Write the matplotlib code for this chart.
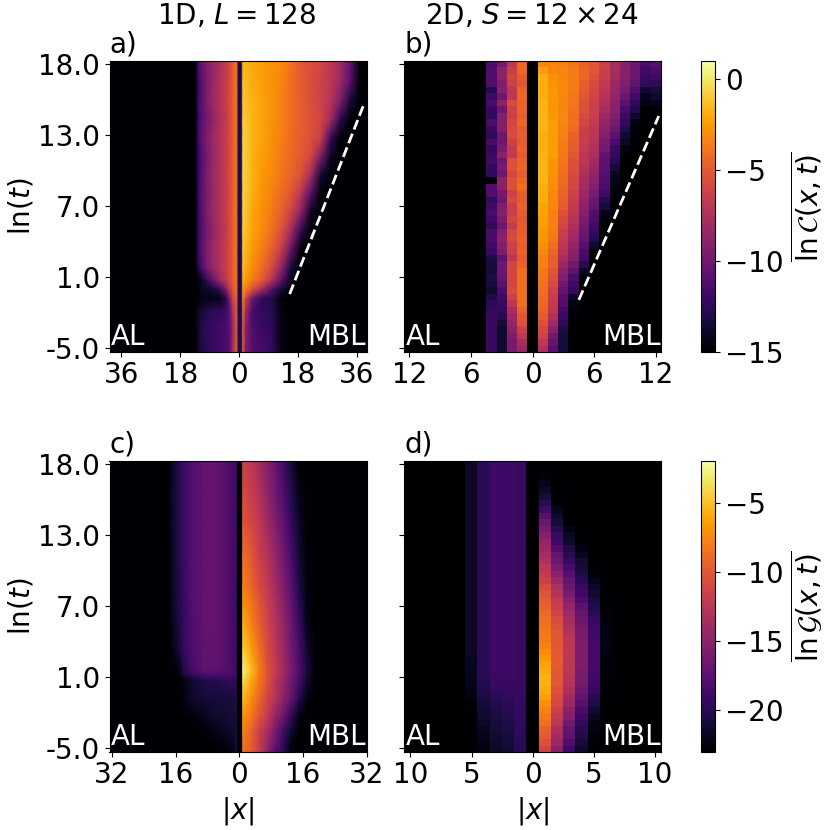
import numpy as np
import matplotlib
matplotlib.use('Agg')
import matplotlib.pyplot as plt

plt.rcParams['font.family'] = 'DejaVu Sans'
plt.rcParams['mathtext.fontset'] = 'dejavusans'
plt.rcParams['font.size'] = 20

# panel a) 1D lnC, smooth field read on a coarse grid
a_t = [18.25, 16.5, 15, 13.5, 12, 10.5, 9, 7.5, 6, 4.5, 3, 1.5, 0.5, -0.25, -1, -2, -3.5, -5.3]
a_x_left = [-13.3, -12.5, -11.5, -10, -8, -6, -4, -3, -2, -0.7]
a_x_core = [-0.2, 0.8]
a_x_right = [1.2, 2, 4, 7, 10, 13, 16, 19, 22, 25, 28, 31, 34, 37]
a_left = [
    [-15, -11.5, -10.5, -9.5, -8.5, -7.8, -6.8, -6, -5, -3.8],
    [-15, -12.5, -11, -9.8, -8.5, -7.5, -6.6, -6, -5, -3.8],
    [-15, -12, -11, -9.5, -8.3, -7.5, -6.5, -5.8, -5, -3.8],
    [-15, -12.3, -11, -10, -8.8, -7.8, -6.7, -5.9, -5, -3.8],
    [-15, -12, -10.8, -9.5, -8.2, -7.4, -6.5, -5.8, -5, -3.8],
    [-15, -12.5, -11.2, -10, -8.6, -7.6, -6.6, -5.9, -5, -3.8],
    [-15, -12.2, -11, -9.6, -8.3, -7.4, -6.5, -5.8, -5, -3.8],
    [-15, -12.4, -11, -9.8, -8.5, -7.6, -6.6, -5.9, -5, -3.8],
    [-15, -12.2, -11, -9.5, -8.3, -7.4, -6.5, -5.8, -5, -3.8],
    [-15, -12.6, -11.2, -10, -8.8, -7.8, -6.7, -5.9, -5, -3.8],
    [-15, -12.2, -11, -9.6, -8.2, -7.4, -6.5, -5.8, -5, -3.8],
    [-15, -13, -11.5, -10, -8.5, -7.5, -6.5, -5.8, -5, -3.8],
    [-15, -15, -14, -12.5, -10.5, -8.5, -6.8, -6, -5, -4],
    [-15, -15, -14, -14, -13.5, -12.5, -9.5, -7, -5.5, -4],
    [-15, -15, -14.5, -14.5, -14.5, -14.5, -13, -10, -6.5, -4.5],
    [-15, -14, -13.5, -13, -12.5, -12.5, -12, -11, -8, -5],
    [-15, -14, -13, -12.5, -12, -11.8, -11.5, -11, -9, -5],
    [-15, -14, -13.2, -12.8, -12.3, -12, -11.5, -11, -8.5, -5],
]
a_core = [-13, -13]
a_right = [
    [-1.8, -1.8, -2.1, -2.5, -2.7, -3.1, -4, -5, -5.5, -6, -7, -8, -10.5, -15],
    [-1.4, -1.5, -2, -2.4, -2.8, -3.3, -4.2, -5, -5.6, -6.2, -7, -8.2, -11, -15],
    [-1.2, -1.3, -1.8, -2.3, -2.8, -3.4, -4.2, -4.8, -5.6, -6.2, -7.2, -9.5, -13.5, -15],
    [-1, -1.1, -1.7, -2.3, -2.8, -3.4, -4.2, -4.8, -5.4, -6, -8, -12.5, -15, -15],
    [-0.9, -1, -1.7, -2.3, -2.9, -3.5, -4.3, -4.9, -5.5, -6.5, -12, -15, -15, -15],
    [-0.8, -0.9, -1.8, -2.5, -3, -3.7, -4.4, -5, -6, -9.5, -14, -15, -15, -15],
    [-0.8, -0.9, -1.8, -2.6, -3.1, -3.9, -4.6, -5.5, -8, -13.5, -15, -15, -15, -15],
    [-0.8, -1, -1.9, -2.7, -3.4, -4.3, -5.2, -7.2, -11, -15, -15, -15, -15, -15],
    [-0.9, -1.1, -2.1, -2.9, -3.7, -4.7, -6.2, -9, -14, -15, -15, -15, -15, -15],
    [-1, -1.3, -2.3, -3.1, -4.1, -5.5, -8, -12.5, -15, -15, -15, -15, -15, -15],
    [-1.2, -1.6, -2.6, -3.5, -4.8, -6.6, -10.5, -15, -15, -15, -15, -15, -15, -15],
    [-1.5, -2, -3, -4.2, -5.8, -8.8, -13.5, -15, -15, -15, -15, -15, -15, -15],
    [-1.8, -2.5, -3.6, -5, -7.3, -10.8, -14.5, -15, -15, -15, -15, -15, -15, -15],
    [-2.7, -3.6, -5.5, -8, -11, -13.5, -15, -15, -15, -15, -15, -15, -15, -15],
    [-3.5, -6, -10, -12.5, -13, -15, -15, -15, -15, -15, -15, -15, -15, -15],
    [-4.5, -8, -11.5, -12.5, -12.8, -14.5, -15, -15, -15, -15, -15, -15, -15, -15],
    [-5, -9, -11.3, -12, -12.5, -14.5, -15, -15, -15, -15, -15, -15, -15, -15],
    [-5, -9.5, -11, -11.5, -12.3, -14.5, -15, -15, -15, -15, -15, -15, -15, -15],
]

# panel b) 2D lnC, one list per column, 45 rows from top to bottom
b_m4 = [-11.5, -11.2, -11.2, -11.2, -12.8, -11.8, -11.5, -12.1, -12.4, -11.5, -12.1, -12.6, -11.5, -12.4, -12.1,
        -11.8, -12.4, -12.4, -15, -11.2, -11.2, -12.4, -11.8, -11.5, -11.8, -12.6, -11.5, -11.5, -11.8, -12.1,
        -13.1, -13.4, -13.4, -13.1, -13.4, -13.7, -13.1, -12.6, -12.4, -12.3, -12.3, -12.1, -12.1, -12.1, -12.1]
b_m3 = [-9.9, -8.9, -8.9, -9.4, -9.2, -10.2, -8.9, -10.2, -9.2, -9.2, -9.2, -10.2, -10.2, -9.7, -8.9,
        -10.2, -9.7, -10.2, -8.9, -8.9, -9.9, -10.2, -9.4, -9.2, -9.6, -10.2, -9.2, -8.9, -9.2, -9.6,
        -10.8, -10.2, -10.2, -10.5, -10.8, -11.5, -11.8, -12.1, -12.4, -12.8, -13.4, -13.7, -13.7, -13.7, -13.7]
b_m2 = [-7, -6.5, -6, -6.2, -7, -7, -5.7, -6.2, -6.2, -5.9, -5.7, -5.7, -6.2, -6.7, -6.7,
        -5.4, -5.4, -5.9, -5.4, -5.4, -6.2, -5.7, -6.5, -6.4, -6, -6.7, -5.9, -5.7, -6.2, -6.5,
        -7, -6, -6, -6, -6, -5.7, -6.2, -7, -7.8, -8.3, -8.6, -8.9, -9.4, -9.7, -9.7]
b_m1 = [-4.4, -4.4, -4.9, -5.1, -4.6, -4.4, -4.6, -4.6, -4.8, -4.4, -4.9, -4.8, -4.9, -4.6, -4.9,
        -4.6, -4.4, -4.8, -4.4, -4.1, -4.8, -4.9, -4.6, -4.9, -5.1, -4.8, -4.8, -4.6, -4.8, -4.6,
        -4.9, -4.6, -4.1, -4.1, -4.1, -4.1, -4.1, -4.1, -4.6, -5.1, -5.4, -6.2, -7, -7.8, -8.3]
b_p1 = [-3.2, -2.5, -1.9, -1.9, -1.9, -1.9, -1.7, -1.7, -1.7, -1.7, -1.7, -1.9, -1.9, -1.9, -1.7,
        -1.7, -1.7, -1.7, -1.7, -1.9, -1.9, -1.9, -2.2, -2.2, -2.5, -2.5, -2.7, -2.7, -3, -3.2,
        -3.5, -3.5, -3.8, -3.8, -4, -4.1, -4.3, -4.4, -4.6, -4.9, -5.4, -5.9, -6.2, -7, -7.5]
b_p2 = [-3.3, -3.2, -3, -2.8, -2.7, -2.7, -2.7, -2.7, -2.7, -2.5, -2.5, -2.5, -2.5, -2.5, -2.5,
        -2.7, -2.8, -2.8, -3, -3, -3.2, -3.2, -3.3, -3.5, -3.5, -3.5, -3.6, -3.8, -4.1, -4.4,
        -4.8, -4.8, -5.1, -5.4, -5.7, -6.2, -6.5, -6.7, -7, -7.5, -8.1, -8.9, -9.9, -10.5, -11]
b_p3 = [-3.5, -3.3, -3.2, -3.2, -3.2, -3.2, -3.3, -3.3, -3.2, -3.3, -3.5, -3.5, -3.6, -3.6, -3.8,
        -3.8, -4, -4.1, -4.3, -4.4, -4.6, -4.8, -4.9, -5.4, -5.7, -6, -6.4, -6.7, -7, -7.3,
        -7.8, -8.3, -8.9, -9.4, -9.9, -10.5, -11, -11.3, -11.8, -12.1, -12.6, -13.1, -13.4, -13.4, -13.4]
b_p4 = [-3.8, -3.6, -3.6, -3.6, -3.6, -3.8, -3.8, -4, -4.1, -4.1, -4.3, -4.6, -4.8, -4.9, -5.1,
        -5.4, -5.4, -5.7, -5.9, -6, -6.2, -6.4, -6.7, -7, -7.3, -7.6, -8, -8.3, -8.6, -8.9,
        -9.2, -9.9, -10.7, -11.5, -11.8, -12.3, -14, -14.5, -14.7, -14.8] + [-15] * 5
b_p5 = [-4.6, -4.4, -4.4, -4.8, -4.9, -5.1, -5.4, -5.4, -5.7, -5.9, -6.2, -6.4, -6.5, -6.7, -7,
        -7, -7.3, -7.6, -7.8, -8.1, -8.3, -8.6, -8.9, -9.2, -9.6, -9.9, -10.2, -10.5, -11, -11.5,
        -11.8, -12.8, -14, -14.7] + [-15] * 11
b_p6 = [-5.1, -5.1, -5.4, -5.7, -5.9, -6, -6.2, -6.4, -6.5, -6.7, -7, -7, -7.2, -7.5, -7.6,
        -8, -8.3, -8.6, -8.9, -9.2, -9.7, -10.2, -10.5, -11.2, -11.5, -11.8, -12.3, -12.8, -13.7, -14.7] + [-15] * 15
b_p7 = [-6.2, -6.4, -6.5, -6.7, -7, -7.3, -7.5, -7.8, -8.3, -8.6, -8.9, -9.2, -9.6, -9.9, -10.5,
        -10.7, -10.8, -11, -11.2, -11.5, -11.8, -12.8, -13.4, -14.2, -14.7] + [-15] * 20
b_p8 = [-7.8, -7.8, -8, -8.3, -8.4, -8.6, -8.9, -9.1, -9.4, -9.7, -10.2, -10.8, -11.5, -12.1, -12.4,
        -12.8, -13.4, -14, -14.2, -14.5, -14.7] + [-15] * 24
b_p9 = [-8.9, -9.1, -9.2, -9.4, -9.6, -10.2, -10.8, -11.5, -12.1, -12.4, -12.9, -13.6, -14, -14.5, -14.8] + [-15] * 30
b_p10 = [-10.2, -10.2, -10.2, -10.5, -11.2, -11.8, -12.4, -12.9, -13.7, -14.4, -14.7, -14.8] + [-15] * 33
b_p11 = [-11.5, -11.8, -12.1, -12.4, -13.7, -14.2, -14.4, -14.8] + [-15] * 37
b_p12 = [-11, -11.5, -11.8, -12.6, -13.4, -13.7, -14.2, -14.7] + [-15] * 37

# panel c) 1D lnG
c_t = [18.25, 15.5, 13, 10.5, 8, 6.5, 5, 3, 1.3, 0.95, 0.5, -1, -2.5, -3.5, -4.5, -5.3]
c_x_left = [-18, -17, -15.5, -14, -12, -9, -6, -3, -1, -0.6]
c_x_gap = [-0.4, 0.7]
c_x_right = [0.9, 3, 5, 7, 9, 11, 13, 15, 17, 19]
c_left = [
    [-23, -21.7, -20.5, -19.2, -18, -17.1, -17.1, -17.8, -18.8, -19.2],
    [-23, -21.7, -20.5, -19.2, -18, -17.1, -17.1, -17.8, -18.8, -19.2],
    [-23, -21.7, -20.5, -19.2, -18, -17.1, -17.1, -17.8, -18.8, -19.2],
    [-23, -21.9, -20.5, -19.2, -18, -17.1, -17.1, -17.8, -18.8, -19.2],
    [-23, -22, -20.7, -19.2, -18, -17.1, -17.1, -17.8, -18.8, -19.2],
    [-23, -22, -20.7, -19.4, -18, -17.1, -17.1, -17.8, -18.8, -19.2],
    [-23, -22.2, -20.9, -19.4, -18.2, -17.1, -17.1, -17.8, -18.8, -19.2],
    [-23, -22.4, -21.3, -19.6, -18.2, -17.3, -17.1, -17.8, -18.8, -19.2],
    [-23, -23, -22.6, -20.5, -18.8, -17.5, -17.5, -17.8, -18.8, -19.2],
    [-23, -23, -22.8, -21, -19.6, -18.4, -18.2, -18.4, -18.8, -19.4],
    [-23, -23, -23, -22.4, -21.3, -20.5, -20.1, -19.6, -19.4, -19.6],
    [-23, -23, -23, -22.6, -21.5, -21.1, -20.9, -20.9, -20.7, -20.5],
    [-23, -23, -23, -23, -22.8, -22, -21.3, -21.1, -20.9, -20.7],
    [-23, -23, -23, -23, -23, -22.8, -22, -21.5, -21.1, -20.5],
    [-23, -23, -23, -23, -23, -23, -22.8, -22.2, -21.3, -20.3],
    [-23, -23, -23, -23, -23, -23, -23, -22.8, -21.7, -20.1],
]
c_gap = [-23, -23]
c_right = [
    [-11.5, -12.5, -13.8, -15.4, -16.7, -18.8, -21, -22.8, -23, -23],
    [-10.8, -11.7, -12.9, -14.6, -16.3, -18, -20.1, -22, -23, -23],
    [-10, -11, -12.1, -13.8, -15.4, -17.1, -19.2, -21.5, -23, -23],
    [-8.7, -9.9, -11.6, -12.8, -14.5, -16.2, -18.4, -20.9, -22.6, -23],
    [-7.9, -9.2, -10.7, -12, -13.7, -15.4, -17.5, -20.5, -22.4, -23],
    [-7, -8.3, -9.9, -11.6, -13.1, -14.9, -17, -19.8, -22.2, -23],
    [-5.8, -7.8, -9.5, -11.2, -12.8, -14.5, -16.6, -19, -22, -23],
    [-4.5, -6.5, -8.6, -10.7, -12.4, -14.1, -16.2, -18.4, -21.2, -23],
    [-2.8, -5.3, -7.8, -10.3, -12, -13.7, -15.8, -18, -20.8, -22.7],
    [-3.2, -5.6, -8, -10.3, -12.2, -13.9, -16, -18.2, -21, -22.8],
    [-3.7, -6.1, -8.2, -10.3, -12.4, -14.1, -16.2, -18.4, -21.2, -23],
    [-5.4, -7.4, -9.1, -11.2, -12.8, -14.9, -17, -20, -22.4, -23],
    [-7, -8.3, -10.3, -12, -14.5, -16.6, -19.6, -22.2, -23, -23],
    [-7.9, -9.2, -11.6, -13.3, -15.8, -18.3, -21, -22.8, -23, -23],
    [-8.3, -9.6, -12, -14.1, -16.6, -19.5, -22.2, -23, -23, -23],
    [-8.7, -9.8, -11.7, -15, -18, -19.4, -22.5, -23, -23, -23],
]

# panel d) 2D lnG, one list per column, 45 rows from top to bottom
d_m5 = [-21.5] * 30 + [-21.7, -21.7, -21.8, -22, -22, -22.2, -22.4, -22.6, -22.8, -22.9] + [-23] * 5
d_m4 = [-19.9] * 34 + [-20.3, -20.5, -20.7, -21, -21.1, -21.3, -21.5, -21.8, -22, -22.2, -22.4]
d_m3 = [-19] * 33 + [-19.2, -19.3, -19.6, -19.9, -20.2, -20.5, -20.7, -20.9, -21, -21.1, -21.3, -21.5]
d_m2 = [-18.9] * 34 + [-19.2, -19.4, -19.6, -19.9, -20.1, -20.3, -20.5, -20.7, -20.9, -21, -21.1]
d_m1 = [-19.2] * 36 + [-19.4, -19.4, -19.6, -19.6, -19.6, -19.8, -19.8, -19.9, -19.9]
d_p1 = [-23, -22.8, -22.6, -22, -21.5, -20.9, -19.9, -18.8, -17.8, -16.7, -16.1, -15.4, -14.6, -14.2, -13.6,
        -13.1, -12.5, -12.1, -11.5, -10.8, -10.2, -9.8, -9.4, -8.9, -8.7, -8.5, -8.3, -8.1, -7.8, -7.3,
        -6.8, -6.3, -6, -5.7, -5.7, -6, -6.5, -7.2, -7.7, -8.2, -8.7, -9.4, -9.8, -10.4, -11.2]
d_p2 = [-23] * 7 + [-22, -21.3, -20.9, -20.1, -19.2, -18.8, -18, -17.1, -16.7, -15.9, -15, -14.2, -13.3, -12.9,
                    -12.1, -11.7, -11.2, -10.8, -10.4, -10, -10, -10, -9.8, -9.8, -9.8, -10, -10, -10, -10.4,
                    -10.8, -11, -11.5, -12.1, -12.5, -13.3, -13.8, -14.2, -15]
d_p3 = [-23] * 10 + [-22.4, -21.7, -21.3, -20.5, -19.9, -19.2, -18.4, -17.8, -17.1, -16.7, -15.9, -15.2, -14.6, -14,
                     -13.6, -13.3, -12.9, -12.5, -12.5, -12.3, -12.3, -12.5, -12.5, -12.7, -12.9, -13.3, -13.8, -14.2,
                     -15, -15.4, -16.3, -17.1, -17.3, -18, -18.8]
d_p4 = [-23] * 13 + [-22.4, -21.7, -21.1, -20.9, -20.5, -19.9, -19.2, -18.8, -18.2, -17.5, -16.9, -16.7, -16.3, -16.1,
                     -15.9, -15.7, -15.7, -15.7, -15.7, -15.9, -16.1, -16.3, -16.7, -17.3, -17.8, -18.4, -18.8, -19.4,
                     -20.1, -20.3, -20.9, -21.3]
d_p5 = [-23] * 17 + [-22.6, -22, -21.5, -21.1, -20.7, -20.3, -19.9, -19.4, -19, -18.8, -18.8, -18.6, -18.6, -18.6,
                     -18.6, -18.6, -18.8, -19, -19.4, -20.1, -20.5, -21.1, -21.7, -22.2, -22.4, -22.6, -22.8, -23]
d_p6 = [-23] * 22 + [-22.8, -22.6, -22.6, -22.4, -22.4, -22.2, -22.2, -22.4, -22.6, -22.6, -22.6, -22.6, -22.8, -22.8] + [-23] * 9

# tick labels
t_ticks = [-5, 0.75, 6.5, 12.25, 18]
t_labels = ['-5.0', '1.0', '7.0', '13.0', '18.0']
a_xticks = [-36, -18, 0, 18, 36]
b_xticks = [-12, -6, 0, 6, 12]
c_xticks = [-32, -16, 0, 16, 32]
d_xticks = [-10, -5, 0, 5, 10]

# dashed guide lines
a_guide_x = [15.5, 38.2]
a_guide_t = [-0.63, 14.74]
b_guide_x = [4.5, 12.28]
b_guide_t = [-1.1, 13.79]

W = H = 830.0


def panel_axes(left, right, top, bottom):
    return [left / W, 1 - bottom / H, (right - left) / W, (bottom - top) / H]


def fill_grid(x_sites, columns, low):
    z = np.full((45, len(x_sites)), float(low))
    for x, vals in columns.items():
        z[:, list(x_sites).index(x)] = vals
    return z


def style_axes(ax, xticks, xlim, letter, show_y):
    ax.set_xlim(*xlim)
    ax.set_ylim(-5.3, 18.25)
    ax.set_xticks(xticks)
    ax.set_xticklabels([str(abs(v)) for v in xticks])
    ax.set_yticks(t_ticks)
    ax.set_yticklabels(t_labels if show_y else [])
    if show_y:
        ax.set_ylabel(r'$\ln(t)$', labelpad=2)
    ax.set_title(letter, loc='left', fontsize=20, pad=6)
    ax.text(0.005, 0.023, 'AL', color='white', transform=ax.transAxes, ha='left', va='baseline')
    ax.text(0.998, 0.023, 'MBL', color='white', transform=ax.transAxes, ha='right', va='baseline')


def field(ax, x, t, z, vmin, vmax):
    ax.set_facecolor(plt.cm.inferno(0.0))
    return ax.pcolormesh(x, t, z, cmap='inferno', vmin=vmin, vmax=vmax, shading='gouraud')


fig = plt.figure(figsize=(8.3, 8.3), dpi=100)

ax_a = fig.add_axes(panel_axes(109.5, 366.5, 61, 351.7))
ax_b = fig.add_axes(panel_axes(404.3, 661, 61, 351.7))
ax_c = fig.add_axes(panel_axes(109.5, 366.5, 461, 751.7))
ax_d = fig.add_axes(panel_axes(404.3, 661, 461, 751.7))

a_x = a_x_left + a_x_core + a_x_right
a_z = np.hstack([np.array(a_left), np.full((len(a_t), 2), a_core[0]), np.array(a_right)])
im_a = field(ax_a, a_x, a_t, a_z, -15, 1)
ax_a.plot(a_guide_x, a_guide_t, color='white', ls='--', lw=2)

b_sites = np.arange(-12, 13)
b_z = fill_grid(b_sites, {-4: b_m4, -3: b_m3, -2: b_m2, -1: b_m1, 1: b_p1, 2: b_p2, 3: b_p3, 4: b_p4, 5: b_p5,
                          6: b_p6, 7: b_p7, 8: b_p8, 9: b_p9, 10: b_p10, 11: b_p11, 12: b_p12}, -15)
im_b = ax_b.imshow(b_z, cmap='inferno', vmin=-15, vmax=1, aspect='auto', interpolation='nearest',
                   extent=[-12.5, 12.5, -5.3, 18.25])
ax_b.plot(b_guide_x, b_guide_t, color='white', ls='--', lw=2)

c_x = c_x_left + c_x_gap + c_x_right
c_z = np.hstack([np.array(c_left), np.full((len(c_t), 2), c_gap[0]), np.array(c_right)])
im_c = field(ax_c, c_x, c_t, c_z, -23, -2)

d_sites = np.arange(-10, 11)
d_z = fill_grid(d_sites, {-5: d_m5, -4: d_m4, -3: d_m3, -2: d_m2, -1: d_m1, 1: d_p1, 2: d_p2, 3: d_p3, 4: d_p4,
                          5: d_p5, 6: d_p6}, -23)
im_d = ax_d.imshow(d_z, cmap='inferno', vmin=-23, vmax=-2, aspect='auto', interpolation='nearest',
                   extent=[-10.5, 10.5, -5.3, 18.25])

style_axes(ax_a, a_xticks, (-39.6, 39), 'a)', True)
style_axes(ax_b, b_xticks, (-12.5, 12.5), 'b)', False)
style_axes(ax_c, c_xticks, (-32.6, 32), 'c)', True)
style_axes(ax_d, d_xticks, (-10.5, 10.5), 'd)', False)

ax_c.set_xlabel(r'$|x|$', labelpad=4)
ax_d.set_xlabel(r'$|x|$', labelpad=4)

fig.text(237 / W, 1 - 24 / H, r'1D, $L = 128$', ha='center', va='baseline')
fig.text(532 / W, 1 - 24 / H, r'2D, $S = 12 \times 24$', ha='center', va='baseline')

cax1 = fig.add_axes(panel_axes(700.7, 715, 60.7, 351.7))
cb1 = fig.colorbar(im_b, cax=cax1)
cb1.set_ticks([0, -5, -10, -15])
cb1.set_label(r'$\overline{\ln\mathcal{C}(x,t)}$', labelpad=4)

cax2 = fig.add_axes(panel_axes(700.7, 715, 461, 751.7))
cb2 = fig.colorbar(im_d, cax=cax2)
cb2.set_ticks([-5, -10, -15, -20])
cb2.set_label(r'$\overline{\ln\mathcal{G}(x,t)}$', labelpad=4)

fig.savefig('out.png', dpi=100)
